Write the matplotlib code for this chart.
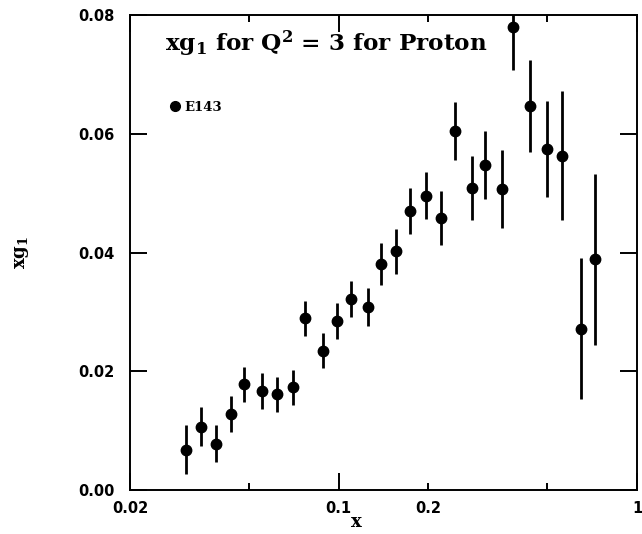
import matplotlib
matplotlib.use("Agg")
import matplotlib.pyplot as plt
from matplotlib.ticker import FixedLocator, FixedFormatter

# E143 proton xg1 at Q^2 = 3
x_vals = [0.0308, 0.0347, 0.0388, 0.0435, 0.0482, 0.0553, 0.0622, 0.0702,
          0.0771, 0.0884, 0.0990, 0.110, 0.125, 0.139, 0.156, 0.174,
          0.196, 0.221, 0.245, 0.279, 0.310, 0.352, 0.385, 0.439,
          0.499, 0.561, 0.651, 0.724]
xg1 = [0.0068, 0.0107, 0.0078, 0.0128, 0.0178, 0.0167, 0.0161, 0.0173,
       0.0289, 0.0235, 0.0285, 0.0322, 0.0309, 0.0381, 0.0402, 0.0470,
       0.0496, 0.0458, 0.0605, 0.0509, 0.0548, 0.0507, 0.0780, 0.0647,
       0.0574, 0.0563, 0.0272, 0.0389]
xg1_err = [0.0041, 0.0033, 0.0031, 0.0030, 0.0029, 0.0030, 0.0030, 0.0030,
           0.0030, 0.0030, 0.0030, 0.0030, 0.0032, 0.0035, 0.0038, 0.0038,
           0.0040, 0.0045, 0.0049, 0.0054, 0.0057, 0.0065, 0.0072, 0.0077,
           0.0081, 0.0109, 0.0119, 0.0144]

x_major = [0.02, 0.1, 1]
x_major_labels = ["0.02", "0.1", "1"]
x_minor = [0.05, 0.2, 0.5]
x_minor_labels = ["", "0.2", ""]
y_ticks = [0.0, 0.02, 0.04, 0.06, 0.08]
y_labels = ["0.00", "0.02", "0.04", "0.06", "0.08"]

plt.rcParams["mathtext.fontset"] = "dejavuserif"

fig = plt.figure(figsize=(6.42, 5.34), dpi=100)
ax = fig.add_axes([0.2025, 0.0823, 0.7897, 0.8895])

ax.errorbar(x_vals, xg1, yerr=xg1_err, fmt="o", color="black", ms=7.5,
            elinewidth=2.0, capsize=0)
ax.plot([], [], "o", color="black", ms=7, label="E143")

ax.set_xscale("log")
ax.set_xlim(0.02, 1)
ax.set_ylim(0, 0.08)

ax.xaxis.set_major_locator(FixedLocator(x_major))
ax.xaxis.set_major_formatter(FixedFormatter(x_major_labels))
ax.xaxis.set_minor_locator(FixedLocator(x_minor))
ax.xaxis.set_minor_formatter(FixedFormatter(x_minor_labels))
ax.set_yticks(y_ticks)
ax.set_yticklabels(y_labels)

ax.tick_params(which="major", direction="in", length=12, width=1.4,
               top=True, right=True)
ax.tick_params(which="minor", direction="in", length=5, width=1.4,
               top=True, right=True)
ax.tick_params(axis="x", which="both", pad=8)
ax.tick_params(axis="y", pad=11)
for lab in ax.get_xticklabels(which="both") + ax.get_yticklabels():
    lab.set_fontfamily("DejaVu Sans")
    lab.set_fontweight("bold")
    lab.set_fontsize(10.5)

for sp in ax.spines.values():
    sp.set_linewidth(1.4)

ax.text(0.069, 0.924, r"xg$_\mathbf{1}$ for Q$^\mathbf{2}$ = 3 for Proton",
        transform=ax.transAxes, fontsize=16.7, fontfamily="DejaVu Serif",
        fontweight="bold", va="baseline", ha="left")

ax.legend(loc="center left", bbox_to_anchor=(0.081, 0.806), frameon=False,
          handlelength=0.6, handletextpad=0.4, borderpad=0, borderaxespad=0,
          prop={"family": "DejaVu Serif", "weight": "bold", "size": 9.5})

fig.text(0.034, 0.528, r"xg$_\mathbf{1}$", rotation=90, fontsize=13,
         fontfamily="DejaVu Serif", fontweight="bold", ha="center", va="center")
fig.text(0.555, 0.006, "x", fontsize=13, fontfamily="DejaVu Serif",
         fontweight="bold", ha="center", va="bottom")

fig.savefig("out.png", dpi=100)
